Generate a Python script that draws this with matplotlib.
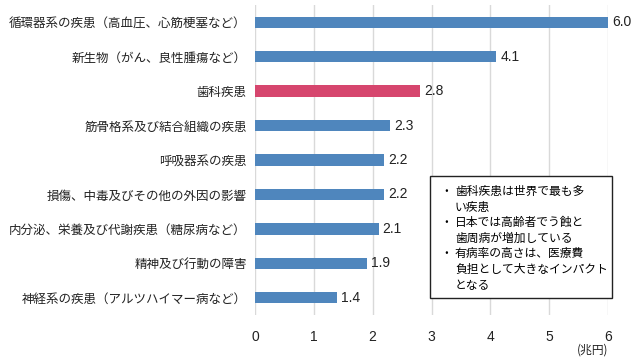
import matplotlib.pyplot as plt
from matplotlib.patches import Rectangle

plt.rcParams['font.family'] = ['Noto Sans CJK JP', 'DejaVu Sans']

categories = [
    '循環器系の疾患（高血圧、心筋梗塞など）',
    '新生物（がん、良性腫瘍など）',
    '歯科疾患',
    '筋骨格系及び結合組織の疾患',
    '呼吸器系の疾患',
    '損傷、中毒及びその他の外因の影響',
    '内分泌、栄養及び代謝疾患（糖尿病など）',
    '精神及び行動の障害',
    '神経系の疾患（アルツハイマー病など）',
]
values = [6.0, 4.1, 2.8, 2.3, 2.2, 2.2, 2.1, 1.9, 1.4]
highlight = '歯科疾患'
xticks = [0, 1, 2, 3, 4, 5, 6]

notes = [
    ['歯科疾患は世界で最も多', 'い疾患'],
    ['日本では高齢者でう蝕と', '歯周病が増加している'],
    ['有病率の高さは、医療費', '負担として大きなインパクト', 'となる'],
]

blue = '#4F86BD'
pink = '#D6466E'
num_font = ['Liberation Sans', 'DejaVu Sans']

fig = plt.figure(figsize=(6.4, 3.6), dpi=100)
ax = fig.add_axes([255 / 640, 1 - 315 / 360, 353 / 640, 310 / 360])

colors = [pink if c == highlight else blue for c in categories]
y = range(len(categories))
ax.barh(y, values, height=0.33, color=colors, zorder=3)
for i, v in enumerate(values):
    ax.text(v + 0.07, i, f'{v:.1f}', va='center', ha='left', fontsize=10,
            color='#222222', family=num_font)

ax.set_ylim(len(categories) - 0.5, -0.5)
ax.set_xlim(0, 6)
ax.set_xticks(xticks)
ax.set_xticklabels([str(t) for t in xticks], family=num_font)
ax.set_yticks(list(y))
ax.set_yticklabels(categories, fontsize=9)
ax.tick_params(axis='both', length=0, colors='#222222')
ax.tick_params(axis='x', pad=11, labelsize=10)
ax.tick_params(axis='y', pad=6)
ax.grid(axis='x', color='#D9D9D9', linewidth=1, zorder=0)
for s in ax.spines.values():
    s.set_visible(False)

fig.text(593 / 640, 1 - 350 / 360, '(兆円)', ha='center', va='center',
         fontsize=8.5, color='#222222')

# note box
fig.patches.append(Rectangle((430 / 640, 1 - 298 / 360), 182 / 640, 122 / 360,
                             transform=fig.transFigure, facecolor='white',
                             edgecolor='#222222', linewidth=1, zorder=5))
line_y = 191.5
for block in notes:
    fig.text(446 / 640, 1 - line_y / 360, '・', ha='center', va='center',
             fontsize=8.5, zorder=6)
    for line in block:
        fig.text(455 / 640, 1 - line_y / 360, line, ha='left', va='center',
                 fontsize=8.5, zorder=6)
        line_y += 15.6

fig.savefig('out.png', dpi=100)
